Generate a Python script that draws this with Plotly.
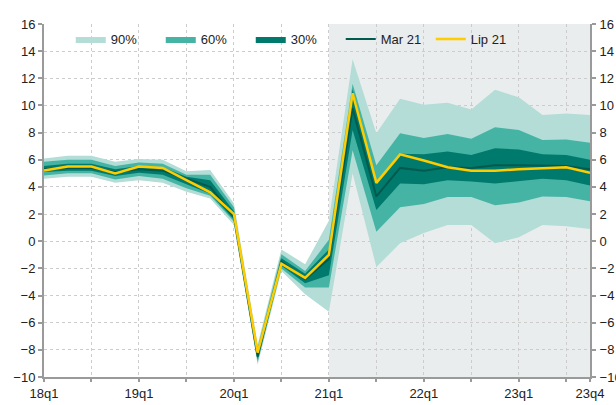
import plotly.graph_objects as go

quarters = ["18q1", "18q2", "18q3", "18q4", "19q1", "19q2", "19q3", "19q4",
            "20q1", "20q2", "20q3", "20q4", "21q1", "21q2", "21q3", "21q4",
            "22q1", "22q2", "22q3", "22q4", "23q1", "23q2", "23q3", "23q4"]
tick_labels = ["18q1", "", "19q1", "", "20q1", "", "21q1", "", "22q1", "", "23q1", "", "23q4"]
tick_pos = [0, 2, 4, 6, 8, 10, 12, 14, 16, 18, 20, 22, 23]
forecast_start = 12

lip21 = [5.2, 5.5, 5.5, 5.0, 5.5, 5.4, 4.5, 3.6, 2.0, -8.2, -1.65, -2.7,
         -1.0, 10.9, 4.3, 6.4, 5.95, 5.45, 5.2, 5.2, 5.3, 5.4, 5.45, 5.05]
mar21 = [5.3, 5.4, 5.4, 5.1, 5.3, 5.2, 4.6, 4.0, 1.8, -8.5, -1.5, -2.8,
         -1.3, 9.8, 3.3, 5.4, 5.2, 5.45, 5.4, 5.6, 5.6, 5.6, 5.55, 5.3]

p90_lo = [4.6, 4.75, 4.75, 4.3, 4.5, 4.3, 3.65, 3.15, 1.2, -9.1, -2.2, -3.9,
          -5.2, 5.0, -1.9, -0.15, 0.6, 1.2, 1.2, -0.15, 0.3, 1.2, 1.1, 0.9]
p90_hi = [6.1, 6.3, 6.3, 5.85, 6.05, 6.0, 5.15, 5.25, 2.8, -7.6, -0.6, -1.7,
          1.5, 13.4, 7.95, 10.5, 10.05, 10.2, 9.7, 11.15, 10.6, 9.3, 9.4, 9.3]
p60_lo = [4.85, 5.0, 5.0, 4.55, 4.8, 4.6, 3.9, 3.35, 1.45, -8.9, -2.0, -3.4,
          -3.4, 6.7, 0.7, 2.5, 2.75, 3.25, 3.25, 2.65, 2.85, 3.3, 3.25, 2.95]
p60_hi = [5.85, 6.0, 6.0, 5.55, 5.8, 5.7, 4.9, 4.9, 2.5, -7.85, -0.95, -2.2,
          0.1, 11.6, 5.6, 7.95, 7.6, 7.9, 7.55, 8.4, 8.2, 7.45, 7.5, 7.25]
p30_lo = [5.1, 5.2, 5.2, 4.8, 5.05, 4.9, 4.2, 3.5, 1.6, -8.7, -1.8, -3.1,
          -2.5, 8.2, 2.3, 4.25, 4.2, 4.5, 4.4, 4.25, 4.4, 4.6, 4.5, 4.1]
p30_hi = [5.55, 5.7, 5.7, 5.3, 5.55, 5.45, 4.75, 4.5, 2.2, -8.0, -1.25, -2.4,
          -0.6, 11.2, 4.3, 6.45, 6.4, 6.6, 6.35, 6.85, 6.75, 6.4, 6.35, 6.0]

y_ticks = list(range(-10, 17, 2))

C90 = "#b3ddd6"
C60 = "#45b4a4"
C30 = "#007a6c"
CMAR = "#005a4e"
CLIP = "#ffcc00"

idx = list(range(len(quarters)))

fig = go.Figure()
for name, lo, hi, col in [("90%", p90_lo, p90_hi, C90),
                          ("60%", p60_lo, p60_hi, C60),
                          ("30%", p30_lo, p30_hi, C30)]:
    fig.add_trace(go.Scatter(
        x=idx + idx[::-1], y=hi + lo[::-1], fill="toself", fillcolor=col,
        mode="lines", line=dict(width=0, color=col), name=name, hoverinfo="skip"))

fig.add_trace(go.Scatter(x=idx, y=mar21, mode="lines", name="Mar 21",
                         line=dict(color=CMAR, width=2)))
fig.add_trace(go.Scatter(x=idx, y=lip21, mode="lines", name="Lip 21",
                         line=dict(color=CLIP, width=2.5)))
fig.add_trace(go.Scatter(x=idx, y=lip21, yaxis="y2", mode="lines",
                         line=dict(width=0, color="rgba(0,0,0,0)"),
                         showlegend=False, hoverinfo="skip"))

fig.add_shape(type="rect", xref="x", yref="paper", x0=forecast_start, x1=len(quarters) - 1,
              y0=0, y1=1, fillcolor="#e9edee", line=dict(width=0), layer="below")

axis_common = dict(showline=True, linecolor="#9a9a9a", linewidth=2, ticks="outside",
                   tickcolor="#9a9a9a", tickwidth=1.5, zeroline=False,
                   tickfont=dict(size=13, color="#222222"))

fig.update_layout(
    width=616, height=405,
    margin=dict(l=44, r=26, t=24, b=28, autoexpand=False),
    paper_bgcolor="white", plot_bgcolor="white",
    font=dict(family="Liberation Sans, Arial, sans-serif", size=13, color="#222222"),
    xaxis=dict(range=[0, len(quarters) - 1], tickmode="array", tickvals=tick_pos,
               ticktext=tick_labels, showgrid=True, gridcolor="#cccccc",
               griddash="dot", gridwidth=1, ticklen=3, automargin=False, **axis_common),
    yaxis=dict(range=[-10, 16], tickmode="array", tickvals=y_ticks, showgrid=True,
               gridcolor="#cccccc", griddash="dot", gridwidth=1, ticklen=4,
               ticklabelstandoff=0, automargin=False, **axis_common),
    yaxis2=dict(range=[-10, 16], tickmode="array", tickvals=y_ticks, overlaying="y",
                side="right", showgrid=False, ticklen=4, ticklabelstandoff=1,
                automargin=False, **axis_common),
    legend=dict(orientation="h", x=0.049, y=1.0, xanchor="left", yanchor="top",
                entrywidth=45, entrywidthmode="pixels", bgcolor="rgba(0,0,0,0)",
                font=dict(size=13), itemwidth=30, tracegroupgap=0),
    showlegend=True,
)

fig.write_html("out.html", config={"displayModeBar": False},
               post_script="document.body.style.margin='0';document.body.style.overflow='hidden';")
